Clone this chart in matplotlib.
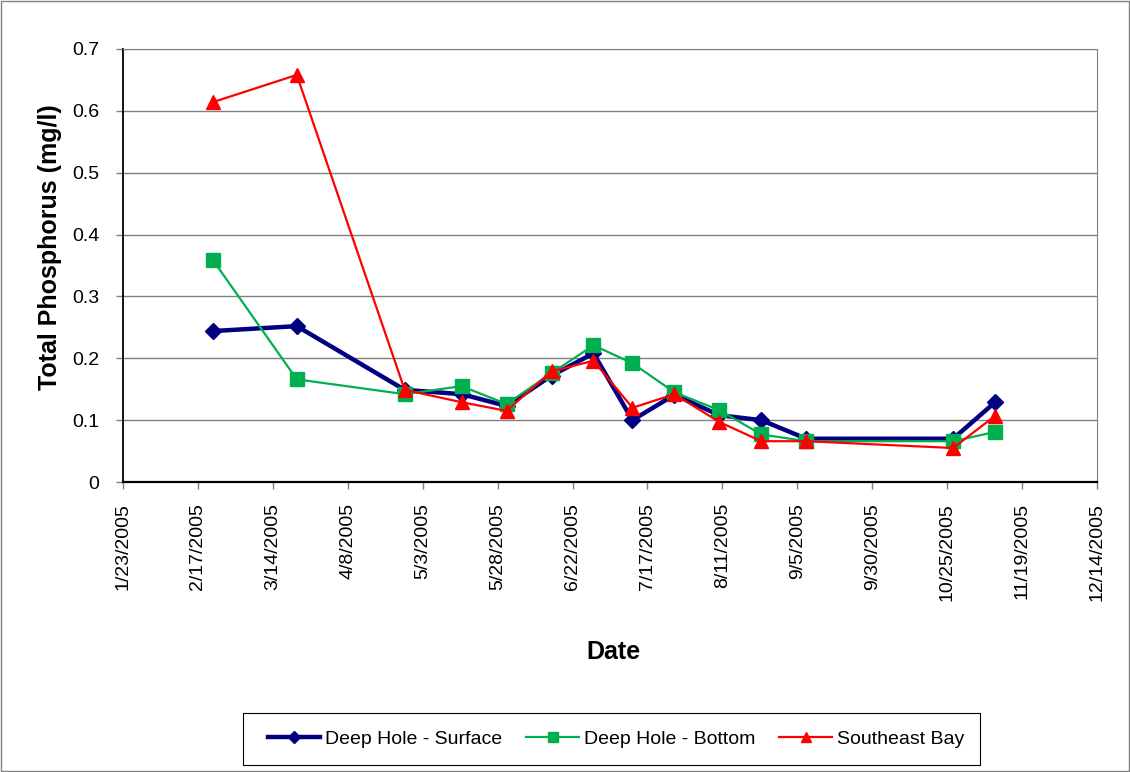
import datetime as dt
import matplotlib
matplotlib.use("Agg")
import matplotlib.pyplot as plt
from matplotlib.patches import Rectangle

plt.rcParams['font.family'] = ['Liberation Sans', 'DejaVu Sans']

sample_dates = ["2005-02-22", "2005-03-22", "2005-04-27", "2005-05-16", "2005-05-31",
                "2005-06-15", "2005-06-29", "2005-07-12", "2005-07-26", "2005-08-10",
                "2005-08-24", "2005-09-08", "2005-10-27", "2005-11-10"]
surface = [0.244, 0.252, 0.149, 0.142, 0.123, 0.172, 0.208, 0.100, 0.141, 0.108,
           0.100, 0.070, 0.070, 0.129]
bottom = [0.359, 0.166, 0.142, 0.155, 0.126, 0.176, 0.221, 0.192, 0.145, 0.116,
          0.077, 0.066, 0.066, 0.081]
southeast = [0.614, 0.658, 0.149, 0.129, 0.115, 0.179, 0.196, 0.120, 0.142, 0.097,
             0.066, 0.066, 0.055, 0.107]
series_labels = ["Deep Hole - Surface", "Deep Hole - Bottom", "Southeast Bay"]

dates = [dt.datetime.strptime(d, "%Y-%m-%d") for d in sample_dates]
x_start = dt.datetime(2005, 1, 23)
x_end = dt.datetime(2005, 12, 14)

fig = plt.figure(figsize=(11.3, 7.72), dpi=100)
ax = fig.add_axes([0.1088, 0.3756, 0.862, 0.561])

ax.plot(dates, surface, color="#000080", lw=3.2, marker="D", ms=8,
        label=series_labels[0], zorder=3)
ax.plot(dates, bottom, color="#00B050", lw=1.6, marker="s", ms=9.5,
        label=series_labels[1], zorder=4)
ax.plot(dates, southeast, color="#FF0000", lw=1.6, marker="^", ms=10,
        label=series_labels[2], zorder=5)

ax.set_xlim(x_start, x_end)
ax.set_ylim(0, 0.7)
ticks = [x_start + dt.timedelta(days=25 * i) for i in range(14)]
ax.set_xticks(ticks)
ax.set_xticklabels([f"{t.month}/{t.day}/{t.year}" for t in ticks], rotation=90,
                   fontsize=14)
ax.set_yticks([i / 10 for i in range(8)])
ax.set_yticklabels(["0"] + [f"{i / 10:.1f}" for i in range(1, 8)], fontsize=14)
ax.tick_params(axis="both", direction="out", length=5, width=1, color="#808080")
ax.tick_params(axis="x", pad=10)
ax.tick_params(axis="y", pad=12)

ax.grid(axis="y", color="#808080", lw=1)
ax.set_axisbelow(True)
for side in ("top", "right"):
    ax.spines[side].set_color("#808080")
ax.spines["left"].set_color("#000000")
ax.spines["left"].set_linewidth(1.3)
ax.spines["bottom"].set_color("#000000")
ax.spines["bottom"].set_linewidth(1.6)

ax.set_xlabel("Date", fontsize=18, fontweight="bold")
ax.xaxis.set_label_coords(0.504, -0.393)
ax.xaxis.label.set_va("center")
ax.set_ylabel("Total Phosphorus (mg/l)", fontsize=18, fontweight="bold")
ax.yaxis.set_label_coords(-0.075, 0.543)
ax.yaxis.label.set_va("center")

# legend entries, with a separate box drawn around them
leg = fig.legend(loc="center", bbox_to_anchor=(0.545, 0.0427), ncol=3, fontsize=14,
                 frameon=False, handlelength=2.7, handletextpad=0.25,
                 columnspacing=1.25, borderpad=0, borderaxespad=0, markerscale=0.75)
fig.patches.append(Rectangle((0.215, 0.0091), 0.652, 0.0674, transform=fig.transFigure,
                             fill=False, edgecolor="#000000", lw=0.8))

fig.patches.append(Rectangle((0.001, 0.001), 0.998, 0.998, transform=fig.transFigure,
                             fill=False, edgecolor="#808080", lw=1))

fig.savefig("out.png", dpi=100)
